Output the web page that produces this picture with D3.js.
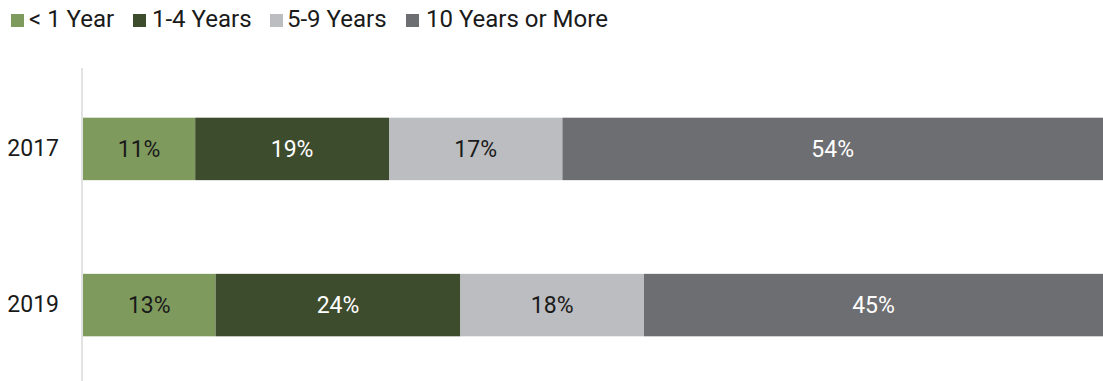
<!DOCTYPE html>
<html>
<head>
<meta charset="utf-8">
<script src="https://cdn.jsdelivr.net/npm/d3@7"></script>
<style>
  body { margin: 0; background: #fff; }
  svg { display: block; font-family: Roboto, sans-serif; }
</style>
</head>
<body>
<div id="chart"></div>
<script>
// data
var years    = ["2017", "2019"];
var groups   = ["< 1 Year", "1-4 Years", "5-9 Years", "10 Years or More"];
var vals2017 = [11, 19, 17, 54];
var vals2019 = [13, 24, 18, 45];
var colors   = ["#7f9a5d", "#3e4c2e", "#bcbdc0", "#6d6e71"];
var textCols = ["#1a1a1a", "#ffffff", "#1a1a1a", "#ffffff"];

var width  = 1103;
var height = 381;

var svg = d3.select("#chart")
            .append("svg")
            .attr("width", width)
            .attr("height", height);

// x goes 0..100 percent over the plot area
var x = d3.scaleLinear()
          .domain([0, 100])
          .range([83, 1103]);

var y = d3.scaleBand()
          .domain(years)
          .range([24, 430])
          .paddingInner(0.6)
          .paddingOuter(0.6);

// build stacked rows
var rows = years.map(function(yr, i) {
  var v = i === 0 ? vals2017 : vals2019;
  var start = 0;
  return v.map(function(d, j) {
    var seg = { year: yr, k: j, x0: start, x1: start + d, v: d };
    start += d;
    return seg;
  });
});

// vertical axis line
svg.append("line")
   .attr("x1", 82).attr("x2", 82)
   .attr("y1", 68).attr("y2", height)
   .style("stroke", "#d9d9d9")
   .style("stroke-width", 1.5);

var rowGroups = svg.selectAll("g.row")
                   .data(rows)
                   .enter()
                   .append("g")
                   .attr("class", "row");

rowGroups.selectAll("rect")
  .data(function(d) { return d; })
  .enter()
  .append("rect")
  .attr("x", function(d) { return x(d.x0); })
  .attr("width", function(d) { return x(d.x1) - x(d.x0); })
  .attr("y", function(d) { return y(d.year); })
  .attr("height", y.bandwidth())
  .style("fill", function(d) { return colors[d.k]; });

rowGroups.selectAll("text")
  .data(function(d) { return d; })
  .enter()
  .append("text")
  .attr("x", function(d) { return (x(d.x0) + Math.min(x(d.x1), width)) / 2; })
  .attr("y", function(d) { return y(d.year) + y.bandwidth() / 2; })
  .attr("dy", "0.35em")
  .attr("text-anchor", "middle")
  .style("font-size", "23px")
  .style("fill", function(d) { return textCols[d.k]; })
  .text(function(d) { return d.v + "%"; });

// year labels
var yAxis = d3.axisLeft(y).tickSize(0).tickPadding(0);
var yg = svg.append("g")
            .attr("transform", "translate(59, 0)")
            .call(yAxis);
yg.select(".domain").remove();
yg.selectAll("text")
  .style("font-size", "23px")
  .style("font-family", "Roboto, sans-serif")
  .style("fill", "#1a1a1a");

// legend
var legX  = [11, 133, 270, 406];
var legTx = [29, 152, 287, 426];
var legend = svg.selectAll("g.leg")
                .data(groups)
                .enter()
                .append("g")
                .attr("class", "leg");

legend.append("rect")
      .attr("x", function(d, i) { return legX[i]; })
      .attr("y", 14)
      .attr("width", 13).attr("height", 13)
      .style("fill", function(d, i) { return colors[i]; });

legend.append("text")
      .attr("x", function(d, i) { return legTx[i]; })
      .attr("y", 27)
      .style("font-size", "24px")
      .style("fill", "#1a1a1a")
      .text(function(d) { return d; });
</script>
</body>
</html>
